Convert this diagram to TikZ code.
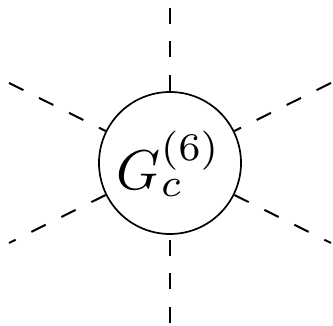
\documentclass[tikz,border=0pt]{standalone}
\begin{document}
\begin{tikzpicture}[x=1pt,y=1pt,
  blob/.style={draw,circle,minimum size=142pt,inner sep=0pt,line width=1.7pt,fill=white},
  leg/.style={line width=2pt,dash pattern=on 16pt off 17.5pt}]
\useasboundingbox (0,0) rectangle (333,326);
\node[blob] (G) at (170,163) {};
\node[scale=5.6,inner sep=0pt] (L) at (169,162) {$G_c^{(6)}$};
\coordinate (t) at (170,318);
\coordinate (b) at (170,3);
\coordinate (ul) at (9,243);
\coordinate (ur) at (331,243);
\coordinate (ll) at (9,83);
\coordinate (lr) at (331,83);
\draw[leg] (t) -- (G);
\draw[leg] (b) -- (G);
\draw[leg] (ul) -- (G);
\draw[leg] (ur) -- (G);
\draw[leg] (G) -- (ll);
\draw[leg] (G) -- (lr);
\end{tikzpicture}
\end{document}
